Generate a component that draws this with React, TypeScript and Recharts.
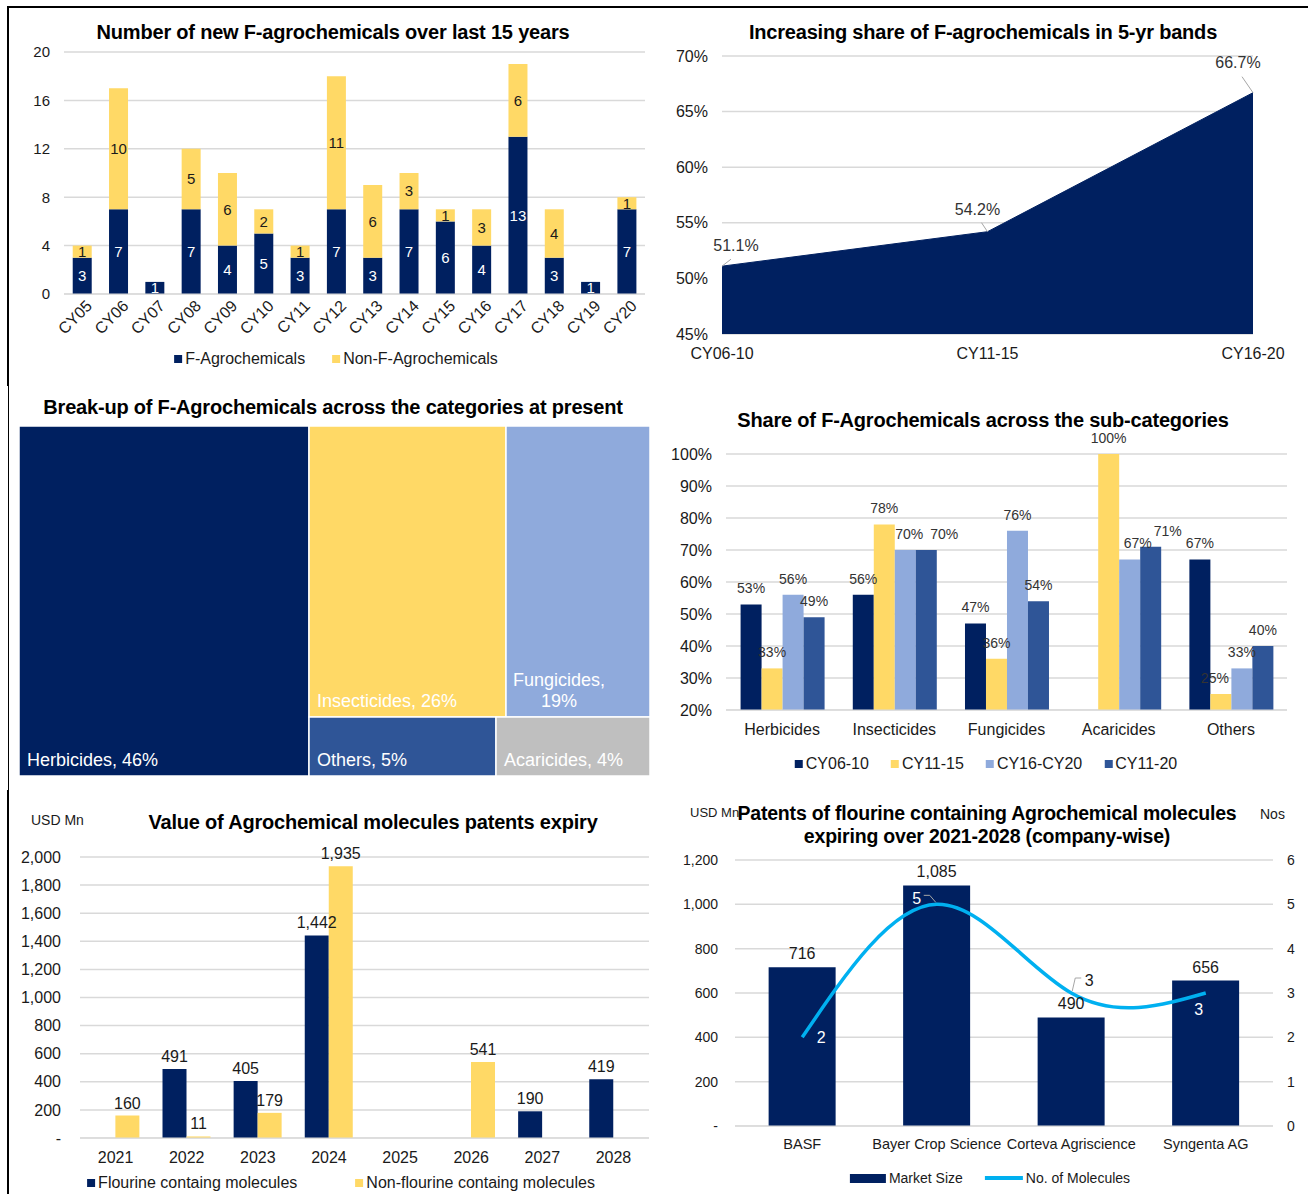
import React from "react";
import {
  BarChart,
  Bar,
  XAxis,
  YAxis,
  CartesianGrid,
  LabelList,
  AreaChart,
  Area,
  Treemap,
  ComposedChart,
  Line,
} from "recharts";

// chart 1 - new agrochemicals per year
const years = ["CY05", "CY06", "CY07", "CY08", "CY09", "CY10", "CY11", "CY12", "CY13", "CY14", "CY15", "CY16", "CY17", "CY18", "CY19", "CY20"];
const fAgro = [3, 7, 1, 7, 4, 5, 3, 7, 3, 7, 6, 4, 13, 3, 1, 7];
const nonFAgro = [1, 10, 0, 5, 6, 2, 1, 11, 6, 3, 1, 3, 6, 4, 0, 1];

// chart 2 - share in 5-yr bands
const bands = ["CY06-10", "CY11-15", "CY16-20"];
const bandShare = [51.1, 54.2, 66.7];

// chart 3 - treemap
const categories = ["Herbicides", "Insecticides", "Fungicides", "Others", "Acaricides"];
const categoryShare = [46, 26, 19, 5, 4];

// chart 4 - sub-categories
const subCategories = ["Herbicides", "Insecticides", "Fungicides", "Acaricides", "Others"];
const cy0610 = [53, 56, 47, null, 67];
const cy1115 = [33, 78, 36, 100, 25];
const cy1620 = [56, 70, 76, 67, 33];
const cy1120 = [49, 70, 54, 71, 40];

// chart 5 - patents expiry value
const expiryYears = ["2021", "2022", "2023", "2024", "2025", "2026", "2027", "2028"];
const fluorineValue = [0, 491, 405, 1442, 0, 0, 190, 419];
const nonFluorineValue = [160, 11, 179, 1935, 0, 541, 0, 0];

// chart 6 - company-wise
const companies = ["BASF", "Bayer Crop Science", "Corteva Agriscience", "Syngenta AG"];
const marketSize = [716, 1085, 490, 656];
const molecules = [2, 5, 3, 3];

const FONT = '"Liberation Sans", Arial, Helvetica, sans-serif';
const NAVY = "#002060";
const YELLOW = "#FFD966";
const LIGHT = "#8FAADC";
const MID = "#2F5597";
const GREY = "#BFBFBF";
const CYAN = "#00B0F0";
const GRID = "#D9D9D9";
const TEXT = "#1a1a1a";

const treeColors: Record<string, string> = {
  Herbicides: NAVY,
  Insecticides: YELLOW,
  Fungicides: LIGHT,
  Others: MID,
  Acaricides: GREY,
};

const yearData = years.map((year, i) => ({ year, f: fAgro[i], nonF: nonFAgro[i] }));
const bandData = bands.map((band, i) => ({ band, share: bandShare[i] }));
const treeData = categories.map((name, i) => ({ name, value: categoryShare[i] }));
const subData = subCategories.map((cat, i) => ({
  cat,
  a: cy0610[i],
  b: cy1115[i],
  c: cy1620[i],
  d: cy1120[i],
}));
const expiryData = expiryYears.map((yr, i) => ({ yr, fl: fluorineValue[i], nonFl: nonFluorineValue[i] }));
const companyData = companies.map((name, i) => ({ name, size: marketSize[i], count: molecules[i] }));

const hideZero = (v: any) => (v ? v : "");
const thousands = (v: any) => (v ? Number(v).toLocaleString("en-US") : "");
const dashZero = (v: any) => (v === 0 ? "-" : Number(v).toLocaleString("en-US"));

const Title = ({ cx, cy, size = 20, children }: any) => (
  <div
    style={{
      position: "absolute",
      left: cx,
      top: cy - size * 0.6,
      transform: "translateX(-50%)",
      fontSize: size,
      lineHeight: `${size * 1.2}px`,
      fontWeight: "bold",
      whiteSpace: "nowrap",
      color: "#000",
      letterSpacing: -0.2,
    }}
  >
    {children}
  </div>
);

const Note = ({ left, cy, size = 14, children }: any) => (
  <div style={{ position: "absolute", left, top: cy - size * 0.6, fontSize: size, lineHeight: `${size * 1.2}px`, color: TEXT, whiteSpace: "nowrap" }}>
    {children}
  </div>
);

const Legend = ({ cx, cy, size = 16, gap = 26, items }: any) => (
  <div
    style={{
      position: "absolute",
      left: cx,
      top: cy - 10,
      height: 20,
      transform: "translateX(-50%)",
      display: "flex",
      alignItems: "center",
      gap,
      fontSize: size,
      color: TEXT,
      whiteSpace: "nowrap",
    }}
  >
    {items.map((it: any) => (
      <span key={it.label} style={{ display: "inline-flex", alignItems: "center" }}>
        <span
          style={{
            display: "inline-block",
            width: it.w ?? 8,
            height: it.h ?? 8,
            background: it.color,
            marginRight: 3,
          }}
        />
        {it.label}
      </span>
    ))}
  </div>
);

const RotatedTick = (props: any) => {
  const { x, y, payload } = props;
  return (
    <g transform={`translate(${x + 7},${y + 1})`}>
      <text textAnchor="end" transform="rotate(-45)" dy="0.35em" fontSize={16} fill={TEXT} fontFamily={FONT}>
        {payload.value}
      </text>
    </g>
  );
};

const areaLabelPos = [
  { dx: 14, dy: -19, lx: 9, ly: -7 },
  { dx: -10, dy: -21, lx: -6, ly: -9 },
  { dx: -15, dy: -29, lx: -11, ly: -16 },
];

const AreaLabel = (props: any) => {
  const x = props.x ?? props.viewBox?.x;
  const y = props.y ?? props.viewBox?.y;
  const o = areaLabelPos[props.index] ?? areaLabelPos[0];
  return (
    <g>
      <line x1={x} y1={y} x2={x + o.lx} y2={y + o.ly} stroke="#a6a6a6" strokeWidth={1} />
      <text x={x + o.dx} y={y + o.dy} textAnchor="middle" dominantBaseline="middle" fontSize={16} fill="#333" fontFamily={FONT}>
        {`${Number(props.value).toFixed(1)}%`}
      </text>
    </g>
  );
};

// sideways nudges for a few crowded labels in the sub-category chart
const subLabelShift: Record<string, number> = { "c-1": 4, "d-1": 18, "c-3": 8, "d-3": 17, "b-4": -6 };

const subLabel = (key: string) => (props: any) => {
  const vb = props.viewBox ?? props;
  const { value, index } = props;
  if (value == null) return <g />;
  const dx = subLabelShift[`${key}-${index}`] ?? 0;
  const cx = vb.x + vb.width / 2 + dx;
  return (
    <text x={cx} y={vb.y - 15} textAnchor="middle" dominantBaseline="middle" fontSize={14} fill="#333" fontFamily={FONT}>
      {`${value}%`}
    </text>
  );
};

const lineLabelPos = [
  { dx: 19, dy: 1, color: "#fff", lead: false },
  { dx: -20, dy: -5, color: "#fff", lead: true },
  { dx: 18, dy: -11, color: TEXT, lead: true },
  { dx: -7, dy: 18, color: "#fff", lead: false },
];

const LineLabel = (props: any) => {
  const x = props.x ?? props.viewBox?.x;
  const y = props.y ?? props.viewBox?.y;
  const o = lineLabelPos[props.index] ?? lineLabelPos[0];
  const leadX = o.dx > 0 ? x + o.dx - 8 : x + o.dx + 7;
  return (
    <g>
      {o.lead ? (
        <polyline
          points={`${leadX},${y + o.dy - 4} ${o.dx > 0 ? leadX - 6 : leadX + 6},${y + o.dy - 4} ${x + (o.dx > 0 ? 1 : -1)},${y - 2}`}
          fill="none"
          stroke="#a6a6a6"
        />
      ) : null}
      <text x={x + o.dx} y={y + o.dy} textAnchor="middle" dominantBaseline="middle" fontSize={16} fill={o.color} fontFamily={FONT}>
        {props.value}
      </text>
    </g>
  );
};

const TreeCell = (props: any) => {
  const { x, y, width, height, name, value, depth } = props;
  if (depth !== 1 || !name) return <g />;
  const fill = treeColors[name] ?? GREY;
  return (
    <g>
      <rect x={x} y={y} width={width} height={height} fill={fill} stroke="#fff" strokeWidth={1.5} />
      {name === "Fungicides" ? (
        <text fontSize={18} fill="#fff" fontFamily={FONT}>
          <tspan x={x + 53} y={y + height - 31} textAnchor="middle">{`${name},`}</tspan>
          <tspan x={x + 53} y={y + height - 10} textAnchor="middle">{`${value}%`}</tspan>
        </text>
      ) : (
        <text x={x + 8} y={y + height - 10} fontSize={18} fill="#fff" fontFamily={FONT}>
          {`${name}, ${value}%`}
        </text>
      )}
    </g>
  );
};

const tick = (size: number) => ({ fontSize: size, fill: TEXT, fontFamily: FONT });

export default function App() {
  return (
    <div style={{ position: "relative", width: 1308, height: 1194, overflow: "hidden", fontFamily: FONT, background: "#fff" }}>
      <style>{`body{margin:0;}`}</style>

      {/* frame lines */}
      <div style={{ position: "absolute", left: 7, top: 6, width: 1301, height: 2, background: "#000" }} />
      <div style={{ position: "absolute", left: 7, top: 6, width: 2, height: 380, background: "#000" }} />
      <div style={{ position: "absolute", left: 8, top: 386, width: 1, height: 404, background: "#000" }} />
      <div style={{ position: "absolute", left: 7, top: 790, width: 2, height: 404, background: "#000" }} />

      {/* chart 1 */}
      <Title cx={333} cy={32}>Number of new F-agrochemicals over last 15 years</Title>
      <div style={{ position: "absolute", left: 0, top: 0 }}>
        <BarChart width={660} height={345} data={yearData} margin={{ top: 52, right: 15, left: 0, bottom: 0 }} barCategoryGap="24%">
          <CartesianGrid vertical={false} stroke={GRID} strokeWidth={1.5} />
          <XAxis dataKey="year" height={51} interval={0} tickLine={false} axisLine={{ stroke: GRID }} tick={<RotatedTick />} />
          <YAxis width={64} domain={[0, 20]} ticks={[0, 4, 8, 12, 16, 20]} tickLine={false} axisLine={false} tick={tick(15)} tickMargin={8} />
          <Bar dataKey="f" stackId="s" fill={NAVY} isAnimationActive={false}>
            <LabelList dataKey="f" position="center" fill="#fff" fontSize={15} fontFamily={FONT} formatter={hideZero} />
          </Bar>
          <Bar dataKey="nonF" stackId="s" fill={YELLOW} isAnimationActive={false}>
            <LabelList dataKey="nonF" position="center" fill={TEXT} fontSize={15} fontFamily={FONT} formatter={hideZero} />
          </Bar>
        </BarChart>
      </div>
      <Legend
        cx={336}
        cy={359}
        gap={27}
        items={[
          { label: "F-Agrochemicals", color: NAVY },
          { label: "Non-F-Agrochemicals", color: YELLOW },
        ]}
      />

      {/* chart 2 */}
      <Title cx={983} cy={32}>Increasing share of F-agrochemicals in 5-yr bands</Title>
      <div style={{ position: "absolute", left: 660, top: 0 }}>
        <AreaChart width={648} height={370} data={bandData} margin={{ top: 56, right: 55, left: 0, bottom: 0 }}>
          <CartesianGrid vertical={false} stroke={GRID} strokeWidth={1.5} />
          <XAxis dataKey="band" height={36} interval={0} tickLine={false} axisLine={false} tick={tick(16)} tickMargin={8} />
          <YAxis
            width={62}
            domain={[45, 70]}
            ticks={[45, 50, 55, 60, 65, 70]}
            tickFormatter={(v) => `${v}%`}
            tickLine={false}
            axisLine={false}
            tick={tick(16)}
            tickMargin={8}
          />
          <Area dataKey="share" type="linear" fill={NAVY} fillOpacity={1} stroke={NAVY} isAnimationActive={false}>
            <LabelList dataKey="share" content={<AreaLabel />} />
          </Area>
        </AreaChart>
      </div>

      {/* chart 3 */}
      <Title cx={333} cy={407}>Break-up of F-Agrochemicals across the categories at present</Title>
      <div style={{ position: "absolute", left: 19, top: 426 }}>
        <Treemap width={631} height={350} data={treeData} dataKey="value" nameKey="name" isAnimationActive={false} content={<TreeCell />} />
      </div>

      {/* chart 4 */}
      <Title cx={983} cy={420}>Share of F-Agrochemicals across the sub-categories</Title>
      <div style={{ position: "absolute", left: 660, top: 400 }}>
        <BarChart width={648} height={340} data={subData} margin={{ top: 54, right: 21, left: 0, bottom: 0 }} barCategoryGap="13%" barGap={0}>
          <CartesianGrid vertical={false} stroke={GRID} strokeWidth={1.5} />
          <XAxis dataKey="cat" height={30} interval={0} tickLine={false} axisLine={{ stroke: GRID }} tick={tick(16)} tickMargin={8} />
          <YAxis
            width={66}
            domain={[20, 100]}
            ticks={[20, 30, 40, 50, 60, 70, 80, 90, 100]}
            allowDataOverflow
            tickFormatter={(v) => `${v}%`}
            tickLine={false}
            axisLine={false}
            tick={tick(16)}
            tickMargin={8}
          />
          <Bar dataKey="a" fill={NAVY} isAnimationActive={false}>
            <LabelList dataKey="a" content={subLabel("a")} />
          </Bar>
          <Bar dataKey="b" fill={YELLOW} isAnimationActive={false}>
            <LabelList dataKey="b" content={subLabel("b")} />
          </Bar>
          <Bar dataKey="c" fill={LIGHT} isAnimationActive={false}>
            <LabelList dataKey="c" content={subLabel("c")} />
          </Bar>
          <Bar dataKey="d" fill={MID} isAnimationActive={false}>
            <LabelList dataKey="d" content={subLabel("d")} />
          </Bar>
        </BarChart>
      </div>
      <Legend
        cx={986}
        cy={764}
        gap={22}
        items={[
          { label: "CY06-10", color: NAVY },
          { label: "CY11-15", color: YELLOW },
          { label: "CY16-CY20", color: LIGHT },
          { label: "CY11-20", color: MID },
        ]}
      />

      {/* chart 5 */}
      <Note left={31} cy={820}>USD Mn</Note>
      <Title cx={373} cy={822}>Value of Agrochemical molecules patents expiry</Title>
      <div style={{ position: "absolute", left: 0, top: 800 }}>
        <BarChart width={660} height={370} data={expiryData} margin={{ top: 57, right: 11, left: 0, bottom: 0 }} barCategoryGap="16%" barGap={0}>
          <CartesianGrid vertical={false} stroke={GRID} strokeWidth={1.5} />
          <XAxis dataKey="yr" height={32} interval={0} tickLine={false} axisLine={{ stroke: GRID }} tick={tick(16)} tickMargin={8} />
          <YAxis
            width={80}
            domain={[0, 2000]}
            ticks={[0, 200, 400, 600, 800, 1000, 1200, 1400, 1600, 1800, 2000]}
            tickFormatter={dashZero}
            tickLine={false}
            axisLine={false}
            tick={tick(16)}
            tickMargin={13}
          />
          <Bar dataKey="fl" fill={NAVY} isAnimationActive={false}>
            <LabelList dataKey="fl" position="top" offset={7} fill={TEXT} fontSize={16} fontFamily={FONT} formatter={thousands} />
          </Bar>
          <Bar dataKey="nonFl" fill={YELLOW} isAnimationActive={false}>
            <LabelList dataKey="nonFl" position="top" offset={7} fill={TEXT} fontSize={16} fontFamily={FONT} formatter={thousands} />
          </Bar>
        </BarChart>
      </div>
      <Legend
        cx={341}
        cy={1183}
        gap={58}
        items={[
          { label: "Flourine containg molecules", color: NAVY },
          { label: "Non-flourine containg molecules", color: YELLOW },
        ]}
      />

      {/* chart 6 */}
      <Note left={690} cy={813} size={13}>USD Mn</Note>
      <Note left={1260} cy={814}>Nos</Note>
      <Title cx={987} cy={814} size={19.5}>Patents of flourine containing Agrochemical molecules</Title>
      <Title cx={987} cy={837} size={19.5}>expiring over 2021-2028 (company-wise)</Title>
      <div style={{ position: "absolute", left: 660, top: 800 }}>
        <ComposedChart width={648} height={360} data={companyData} margin={{ top: 60, right: 0, left: 0, bottom: 0 }} barCategoryGap="25%">
          <CartesianGrid vertical={false} stroke={GRID} strokeWidth={1.5} yAxisId="left" />
          <XAxis dataKey="name" height={34} interval={0} tickLine={false} axisLine={{ stroke: GRID }} tick={tick(14.5)} tickMargin={7} />
          <YAxis
            yAxisId="left"
            width={75}
            domain={[0, 1200]}
            ticks={[0, 200, 400, 600, 800, 1000, 1200]}
            tickFormatter={dashZero}
            tickLine={false}
            axisLine={false}
            tick={tick(14)}
            tickMargin={11}
          />
          <YAxis
            yAxisId="right"
            orientation="right"
            width={35}
            domain={[0, 6]}
            ticks={[0, 1, 2, 3, 4, 5, 6]}
            tickLine={false}
            axisLine={false}
            tick={tick(14)}
            tickMargin={8}
          />
          <Bar yAxisId="left" dataKey="size" fill={NAVY} isAnimationActive={false}>
            <LabelList dataKey="size" position="top" offset={8} fill={TEXT} fontSize={16} fontFamily={FONT} formatter={thousands} />
          </Bar>
          <Line yAxisId="right" dataKey="count" type="natural" stroke={CYAN} strokeWidth={3.5} dot={false} isAnimationActive={false}>
            <LabelList dataKey="count" content={<LineLabel />} />
          </Line>
        </ComposedChart>
      </div>
      <Legend
        cx={990}
        cy={1178}
        size={14}
        gap={22}
        items={[
          { label: "Market Size", color: NAVY, w: 36, h: 9 },
          { label: "No. of  Molecules", color: CYAN, w: 38, h: 4 },
        ]}
      />
    </div>
  );
}
